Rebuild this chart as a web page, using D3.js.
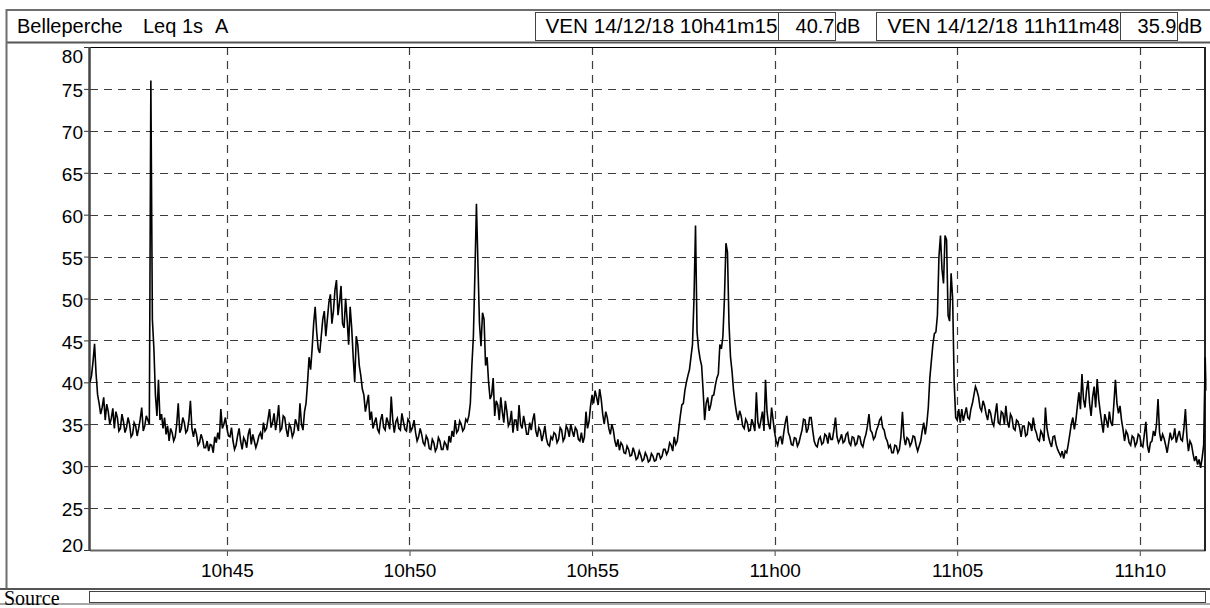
<!DOCTYPE html>
<html><head><meta charset="utf-8">
<script src="https://cdn.jsdelivr.net/npm/d3@7"></script>
<style>
html,body{margin:0;padding:0;background:#fff;}
svg{display:block;}
</style></head><body>
<svg id="c" width="1210" height="608"></svg>
<script>
// ---------- data ----------
const titleParts = ["Belleperche", "Leq 1s", "A"];
const startLabel = "VEN 14/12/18 10h41m15";
const startValue = "40.7";
const endLabel = "VEN 14/12/18 11h11m48";
const endValue = "35.9";
const unit = "dB";
const sourceLabel = "Source";
const startTime = "2018-12-14T10:41:15";
const endTime = "2018-12-14T11:11:48";
const stepSeconds = 2.5;
const yTicks = [20, 25, 30, 35, 40, 45, 50, 55, 60, 65, 70, 75, 80];
const xTickTimes = ["2018-12-14T10:45:00", "2018-12-14T10:50:00", "2018-12-14T10:55:00", "2018-12-14T11:00:00", "2018-12-14T11:05:00", "2018-12-14T11:10:00"];
const xTickLabels = ["10h45", "10h50", "10h55", "11h00", "11h05", "11h10"];
// Leq (dB A) read every 2.5 s from 10h41m15
const levels = [
 40, 40.8, 42.5, 44.6, 41, 38.5, 37.5, 36.2, 37, 38.2, 35.5, 37.4, 36.5, 35, 35.7, 36.9, 34.5, 36.5, 35.8, 34.2,
 34.5, 36.2, 35.3, 34, 34.6, 35.8, 35.0, 33.5, 33.8, 35.2, 34.8, 33.6, 34.5, 35.6, 37, 34.2, 34.8, 36, 35.5, 35,
 76, 47.5, 44, 38.5, 36, 40.3, 35.5, 36.2, 34.5, 35.8, 33.8, 34.8, 33, 34.5, 34, 33, 33.5, 35, 37.5, 34,
 34.5, 35.8, 35.2, 34, 34.3, 35.5, 37.8, 34.5, 33.5, 34.5, 33.8, 32.5, 32.8, 33.8, 33.2, 32.2, 32.2, 33, 31.8, 32.6,
 32.5, 31.6, 33.5, 32.8, 34, 33.2, 36.8, 34.5, 35, 35.8, 34.5, 33.6, 33.5, 34.6, 33, 32, 32.5, 33.6, 34.5, 33,
 32, 33.4, 33, 32.2, 33.8, 34.5, 32.6, 33.8, 33, 32.2, 32.8, 33.6, 34, 33.2, 35.2, 34.2, 34.5, 35.6, 36.8, 34.6,
 35.2, 36.3, 34.3, 35.5, 37.3, 34.2, 34.5, 36, 35.8, 34.4, 33.5, 35, 34.6, 33.5, 34, 35.6, 35, 34.2, 37.5, 35,
 34.3, 36.5, 37.5, 40, 43, 41.5, 44, 47, 49, 46, 44, 43.5, 45.5, 47.5, 48.5, 45.5, 47.5, 49.5, 50.5, 47,
 48.5, 51, 52.2, 48, 49.5, 51.5, 47, 46.5, 50, 47.5, 44.5, 49, 46.5, 43, 40, 45.5, 44.5, 42, 40.8, 39.2,
 38.5, 36.5, 37.5, 38.5, 35.5, 36.5, 34.5, 35.2, 35.8, 34.4, 34, 35.5, 36.2, 34.6, 34.3, 35.8, 35.2, 34.4, 38.3, 35.5,
 34, 35.3, 35.7, 34.5, 34.3, 36.3, 35.3, 34.4, 34.2, 35.6, 35.3, 34.2, 34.6, 35.5, 34, 33, 33.5, 34.5, 33.8, 32.8,
 32.5, 33.6, 33.2, 32.1, 32, 33.2, 32.8, 31.8, 32.2, 33.4, 33, 32, 32, 32.9, 32.6, 31.9, 33.6, 32.8, 34.2, 33.5,
 35.5, 34, 34.3, 35.4, 35, 34.2, 34.5, 35.6, 35.3, 36, 37.5, 42, 45.5, 53, 61.3, 54, 47, 44.3, 48.3, 47.5,
 42, 43, 40, 38, 38.5, 40.5, 36, 37.8, 37.3, 35.5, 38.2, 36.5, 35.2, 37.8, 36.5, 34.8, 35.2, 36.6, 34, 35.5,
 35.5, 34.2, 37.3, 35, 34.5, 36, 35, 33.8, 33.8, 35.2, 34.3, 35.5, 36.3, 34.2, 33.5, 34.6, 34.2, 33, 33.8, 34.8,
 33.3, 32.6, 32.4, 33.5, 33.2, 34, 33.8, 32.8, 33.2, 34.6, 34.3, 33, 33.4, 34.8, 34.4, 33.5, 35, 34.2, 33.5, 34.6,
 34.3, 33.2, 33, 34, 32.8, 33.5, 36.5, 34.5, 35.3, 37.2, 38.5, 37.5, 39, 38.2, 37.3, 39.2, 38, 36.2, 35, 36.5,
 35.8, 34.5, 33.8, 35, 34.3, 33, 32.3, 33.2, 31.9, 32.8, 32.5, 31.6, 31.5, 32.4, 32, 31.2, 31.3, 32.2, 31.6, 30.8,
 31, 31.8, 31.3, 30.6, 30.8, 31.6, 31.2, 30.5, 30.7, 31.5, 31.2, 30.6, 30.7, 31.5, 31.5, 30.9, 31.2, 32, 32, 31.4,
 31.8, 32.8, 32.5, 31.8, 33.5, 32.6, 33, 34.5, 36, 37.3, 37.5, 39, 40, 40.8, 41.5, 43, 44.5, 50, 58.7, 46,
 44, 42.8, 42, 39, 35.5, 37.5, 38.2, 36.6, 37.3, 38.4, 38.5, 39.6, 40.5, 41, 44.5, 44, 45.5, 50, 56.6, 55.5,
 47, 43, 41.3, 39, 37.5, 36.3, 35.5, 36.6, 36, 34.8, 34.5, 35.6, 35.2, 34.2, 34.3, 35.6, 35, 34.2, 38.8, 35.2,
 34.5, 35.5, 36.5, 34.2, 40.3, 36.5, 35, 34.4, 37, 35.5, 34, 33, 32.5, 33.4, 33.5, 32.6, 34, 35.2, 36, 34,
 33.5, 32.6, 32.5, 33.4, 33.3, 32.4, 32.8, 33.6, 34.3, 35.6, 35.5, 34, 34.5, 35.8, 35.8, 34.3, 33, 32.5, 32.3, 33.2,
 33.5, 32.6, 32.8, 33.8, 33.6, 32.7, 34, 33.2, 33.2, 34.4, 35.8, 33.5, 32.8, 33.2, 33.8, 32.8, 33, 33.8, 34, 32.8,
 32.5, 33.5, 33.4, 32.5, 32.7, 33.6, 33.5, 32.6, 32.3, 33.2, 33.8, 34.8, 36.2, 34.3, 34, 33.2, 33.5, 34.3, 34.8, 35.5,
 35.8, 34.6, 34.3, 33.4, 33, 32.2, 32.5, 31.6, 31.6, 32.5, 32.4, 31.6, 32, 33.5, 36.5, 33.5, 32.5, 33.4, 33.2, 32.4,
 32.8, 33.6, 33.5, 32.5, 31.8, 32.4, 33, 34.2, 35.2, 33.8, 35, 37, 40.5, 42.5, 44.5, 45.8, 46, 48, 55, 57.5,
 53.5, 51.8, 57.5, 57, 48, 47.3, 53, 50, 40, 35.8, 35.5, 36.8, 35.2, 36.8, 35.4, 36.2, 37, 35.8, 35.6, 36.8,
 37.5, 38.5, 39.5, 39, 38.3, 37, 36.6, 37.8, 37.2, 36.2, 35.5, 36.8, 36.3, 35.2, 34.8, 36.2, 37.5, 35.2, 35, 36.5,
 36.3, 35, 37.2, 35.3, 34.6, 36.2, 35.8, 34.5, 34.3, 35.5, 35.3, 34.6, 33.5, 34.8, 34.8, 33.6, 33.8, 35.2, 35, 34.2,
 35.8, 34.5, 34, 33.2, 33, 34.2, 33.8, 33, 37, 34.5, 33.5, 32.8, 32.3, 33.5, 33.6, 32.6, 32, 31.6, 31.2, 31.8,
 30.9, 31.8, 31.6, 32.6, 33.8, 35, 35.8, 34.4, 35.5, 37.2, 38.8, 36.8, 41, 38, 37, 39, 40.2, 37.5, 36, 38.2,
 39.5, 37, 40.4, 38, 36.5, 35.2, 34, 36.2, 35.5, 34.6, 36.5, 35.2, 34.8, 37.5, 40.3, 37.5, 36.3, 37.2, 35.5, 34.4,
 33, 34.2, 33.8, 32.8, 32.5, 33.6, 33.4, 32.4, 32.8, 33.8, 33.6, 32.5, 32.3, 33.8, 35.3, 32.5, 31.6, 32.8, 33, 34.2,
 33.6, 35, 38, 34, 33, 33.8, 33.3, 32.5, 31.6, 32.8, 34, 33.2, 33.4, 34.5, 32.8, 33.6, 34.2, 33.2, 33, 34.5,
 36.8, 33.5, 31.8, 33, 32.6, 31.5, 30.6, 31.2, 30.2, 30.8, 29.8, 31, 32.5, 43, 39
];

// ---------- layout ----------
const W = 1210, H = 608;
const plot = {left: 90, right: 1205.5, top: 47, bottom: 550};
const svg = d3.select("#c");
const sans = "'Liberation Sans', Arial, sans-serif";
const serif = "'Liberation Serif', 'Times New Roman', serif";

const t0 = new Date(startTime), t1 = new Date(endTime);
const series = levels.map((v, i) => ({t: new Date(t0.getTime() + i * stepSeconds * 1000), v}));

const x = d3.scaleTime().domain([t0, t1]).range([plot.left, plot.right]);
const y = d3.scaleLinear().domain([20, 80]).range([plot.bottom, plot.top]);

svg.append("rect").attr("width", W).attr("height", H).attr("fill", "#fff");

// outer frame
svg.append("line").attr("x1", 6).attr("x2", 1210).attr("y1", 10).attr("y2", 10).attr("stroke", "#6e6e6e").attr("stroke-width", 2);
svg.append("line").attr("x1", 6).attr("x2", 1210).attr("y1", 42.5).attr("y2", 42.5).attr("stroke", "#555").attr("stroke-width", 2);
svg.append("line").attr("x1", 6.5).attr("x2", 6.5).attr("y1", 9).attr("y2", 589).attr("stroke", "#6e6e6e").attr("stroke-width", 2);
svg.append("line").attr("x1", 0).attr("x2", 1210).attr("y1", 589).attr("y2", 589).attr("stroke", "#555").attr("stroke-width", 2);
svg.append("line").attr("x1", 0).attr("x2", 1210).attr("y1", 604).attr("y2", 604).attr("stroke", "#8a8a8a").attr("stroke-width", 1.5);

// header
const header = svg.append("g").attr("font-family", sans).attr("font-size", 20).attr("fill", "#000");
const titleX = [17, 143, 215];
titleParts.forEach((s, i) => header.append("text").attr("x", titleX[i]).attr("y", 33).text(s));
const boxes = [
  {x0: 535, x1: 778, label: startLabel, len: 232},
  {x0: 778, x1: 835, label: startValue, len: null},
  {x0: 876, x1: 1120, label: endLabel, len: 232},
  {x0: 1120, x1: 1177, label: endValue, len: null}
];
boxes.forEach(b => {
  header.append("rect").attr("x", b.x0 + 0.5).attr("y", 12.5).attr("width", b.x1 - b.x0).attr("height", 28)
    .attr("fill", "#fff").attr("stroke", "#444").attr("stroke-width", 1);
  const t = header.append("text").attr("x", b.x1 - 0.5).attr("y", 33).attr("text-anchor", "end").text(b.label);
  if (b.len) t.attr("textLength", b.len).attr("lengthAdjust", "spacingAndGlyphs");
});
header.append("text").attr("x", 836).attr("y", 33).text(unit);
header.append("text").attr("x", 1178).attr("y", 33).text(unit);

// grid
const grid = svg.append("g").attr("stroke", "#3c3c3c").attr("stroke-width", 1.2).attr("stroke-dasharray", "8,6");
grid.selectAll("line.h").data(yTicks.filter(d => d > 20 && d < 80)).join("line")
  .attr("x1", plot.left).attr("x2", plot.right).attr("y1", d => Math.round(y(d)) + 0.5).attr("y2", d => Math.round(y(d)) + 0.5);
grid.selectAll("line.v").data(xTickTimes).join("line")
  .attr("x1", d => Math.round(x(new Date(d))) + 0.5).attr("x2", d => Math.round(x(new Date(d))) + 0.5)
  .attr("y1", plot.top).attr("y2", plot.bottom);

// axes
const yAxis = d3.axisLeft(y).tickValues(yTicks).tickSize(6).tickPadding(1).tickFormat(d3.format("d"));
const gy = svg.append("g").attr("transform", `translate(${plot.left},0)`).call(yAxis);
gy.select(".domain").remove();
gy.selectAll("line").attr("stroke", "#333");
gy.selectAll("text").attr("font-family", sans).attr("font-size", 19).attr("fill", "#000")
  .attr("dy", d => d === 80 ? "0.84em" : d === 20 ? "0.1em" : "0.4em");

const xAxis = d3.axisBottom(x).tickValues(xTickTimes.map(d => new Date(d))).tickSize(6).tickPadding(8)
  .tickFormat((d, i) => xTickLabels[i]);
const gx = svg.append("g").attr("transform", `translate(0,${plot.bottom})`).call(xAxis);
gx.select(".domain").remove();
gx.selectAll("line").attr("stroke", "#444");
gx.selectAll("text").attr("font-family", sans).attr("font-size", 19).attr("fill", "#000");

// plot borders
svg.append("line").attr("x1", plot.left).attr("x2", plot.right).attr("y1", plot.top + 0.5).attr("y2", plot.top + 0.5).attr("stroke", "#000");
svg.append("line").attr("x1", plot.left).attr("x2", plot.right).attr("y1", plot.bottom + 0.5).attr("y2", plot.bottom + 0.5).attr("stroke", "#666").attr("stroke-width", 2);
svg.append("line").attr("x1", plot.left - 0.5).attr("x2", plot.left - 0.5).attr("y1", plot.top).attr("y2", plot.bottom + 1).attr("stroke", "#444").attr("stroke-width", 2.5);
svg.append("line").attr("x1", plot.right - 0.5).attr("x2", plot.right - 0.5).attr("y1", plot.top).attr("y2", plot.bottom + 1).attr("stroke", "#222").attr("stroke-width", 2);

// series
svg.append("clipPath").attr("id", "clip").append("rect")
  .attr("x", plot.left).attr("y", plot.top).attr("width", plot.right - plot.left + 1).attr("height", plot.bottom - plot.top);
const line = d3.line().x(d => x(d.t)).y(d => y(d.v));
svg.append("path").datum(series).attr("clip-path", "url(#clip)")
  .attr("fill", "none").attr("stroke", "#000").attr("stroke-width", 1.6).attr("stroke-linejoin", "miter")
  .attr("d", line);

// source bar
svg.append("text").attr("x", 4).attr("y", 605).attr("font-family", serif).attr("font-size", 20).attr("fill", "#000").text(sourceLabel);
svg.append("rect").attr("x", 89.5).attr("y", 591.5).attr("width", 1116).attr("height", 11)
  .attr("fill", "#fff").attr("stroke", "#444").attr("stroke-width", 1);
</script>
</body></html>
